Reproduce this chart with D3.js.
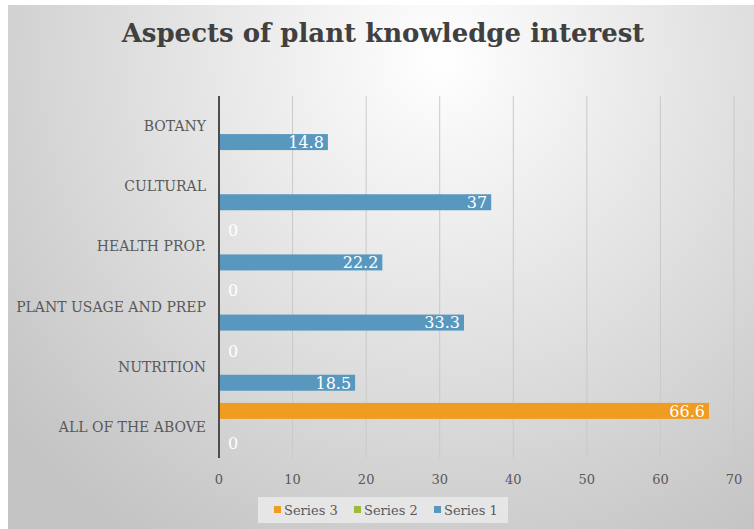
<!DOCTYPE html>
<html>
<head>
<meta charset="utf-8">
<script src="https://cdn.jsdelivr.net/npm/d3@7"></script>
<style>
  html, body { margin: 0; padding: 0; background: #fff; }
  text { font-family: Georgia, "DejaVu Serif", serif; }
</style>
</head>
<body>
<svg id="chart" width="754" height="529"></svg>
<script>
const categories = ["BOTANY", "CULTURAL", "HEALTH PROP.", "PLANT USAGE AND PREP", "NUTRITION", "ALL OF THE ABOVE"];
const seriesNames = ["Series 3", "Series 2", "Series 1"];
const series1 = [14.8, 37, 22.2, 33.3, 18.5, 0];
const series2 = [null, null, null, null, null, null];
const series3 = [null, null, 0, 0, 0, 66.6];
const xTicks = [0, 10, 20, 30, 40, 50, 60, 70];
const colors = {"Series 1": "#5898bf", "Series 2": "#9bbb3b", "Series 3": "#f09b22"};

const svg = d3.select("#chart");

// background with soft radial shading
const defs = svg.append("defs");
const grad = defs.append("radialGradient")
    .attr("id", "bg")
    .attr("gradientUnits", "userSpaceOnUse")
    .attr("cx", 440).attr("cy", 60).attr("r", 560);
grad.append("stop").attr("offset", "0%").attr("stop-color", "#ffffff");
grad.append("stop").attr("offset", "100%").attr("stop-color", "#c4c4c4");

svg.append("rect")
    .attr("x", 8).attr("y", 5)
    .attr("width", 746).attr("height", 524)
    .attr("fill", "url(#bg)");

svg.append("text")
    .attr("x", 383).attr("y", 42)
    .attr("text-anchor", "middle")
    .attr("font-size", 26)
    .attr("font-weight", "bold")
    .attr("fill", "#404040")
    .text("Aspects of plant knowledge interest");

const x = d3.scaleLinear().domain([0, 70]).range([219, 734]);
const y = d3.scaleBand().domain(categories).range([96, 457]);
const ySub = d3.scaleBand().domain(seriesNames).range([0, y.bandwidth()]).paddingOuter(0.38);

// grid lines
svg.append("g")
    .selectAll("line")
    .data(xTicks.slice(1))
    .join("line")
    .attr("x1", d => x(d)).attr("x2", d => x(d))
    .attr("y1", 96).attr("y2", 458)
    .attr("stroke", "#c9c9c9")
    .attr("stroke-width", 1);

// x tick labels
svg.append("g")
    .selectAll("text")
    .data(xTicks)
    .join("text")
    .attr("x", d => x(d))
    .attr("y", 484)
    .attr("text-anchor", "middle")
    .attr("font-size", 13)
    .attr("fill", "#595959")
    .text(d => d);

// bars
const rows = [];
categories.forEach((c, i) => {
    rows.push({cat: c, s: "Series 1", v: series1[i]});
    rows.push({cat: c, s: "Series 2", v: series2[i]});
    rows.push({cat: c, s: "Series 3", v: series3[i]});
});
const present = rows.filter(d => d.v !== null);

svg.append("g")
    .selectAll("rect")
    .data(present)
    .join("rect")
    .attr("x", x(0))
    .attr("y", d => y(d.cat) + ySub(d.s))
    .attr("width", d => x(d.v) - x(0))
    .attr("height", ySub.bandwidth())
    .attr("fill", d => colors[d.s]);

// value labels
svg.append("g")
    .selectAll("text")
    .data(present)
    .join("text")
    .attr("x", d => d.v > 5 ? x(d.v) - 4 : x(0) + 9)
    .attr("y", d => y(d.cat) + ySub(d.s) + ySub.bandwidth() / 2)
    .attr("dy", "0.36em")
    .attr("text-anchor", d => d.v > 5 ? "end" : "start")
    .attr("font-size", 16)
    .attr("fill", "#ffffff")
    .text(d => d.v);

// category axis line
svg.append("line")
    .attr("x1", x(0)).attr("x2", x(0))
    .attr("y1", 96).attr("y2", 458)
    .attr("stroke", "#4d4d4d")
    .attr("stroke-width", 2);

// category labels
svg.append("g")
    .selectAll("text")
    .data(categories)
    .join("text")
    .attr("x", 206)
    .attr("y", d => y(d) + y.bandwidth() / 2)
    .attr("dy", "0.36em")
    .attr("text-anchor", "end")
    .attr("font-size", 14)
    .attr("fill", "#595959")
    .text(d => d);

// legend
svg.append("rect")
    .attr("x", 258).attr("y", 497)
    .attr("width", 250).attr("height", 26)
    .attr("fill", "#e6e6e6");

const legendX = [274, 354, 434];
const lg = svg.append("g")
    .selectAll("g")
    .data(seriesNames)
    .join("g")
    .attr("transform", (d, i) => `translate(${legendX[i]},510)`);
lg.append("rect")
    .attr("x", 0).attr("y", -4)
    .attr("width", 7).attr("height", 7)
    .attr("fill", d => colors[d]);
lg.append("text")
    .attr("x", 10).attr("y", 0)
    .attr("dy", "0.36em")
    .attr("font-size", 13)
    .attr("fill", "#595959")
    .text(d => d);
</script>
</body>
</html>
